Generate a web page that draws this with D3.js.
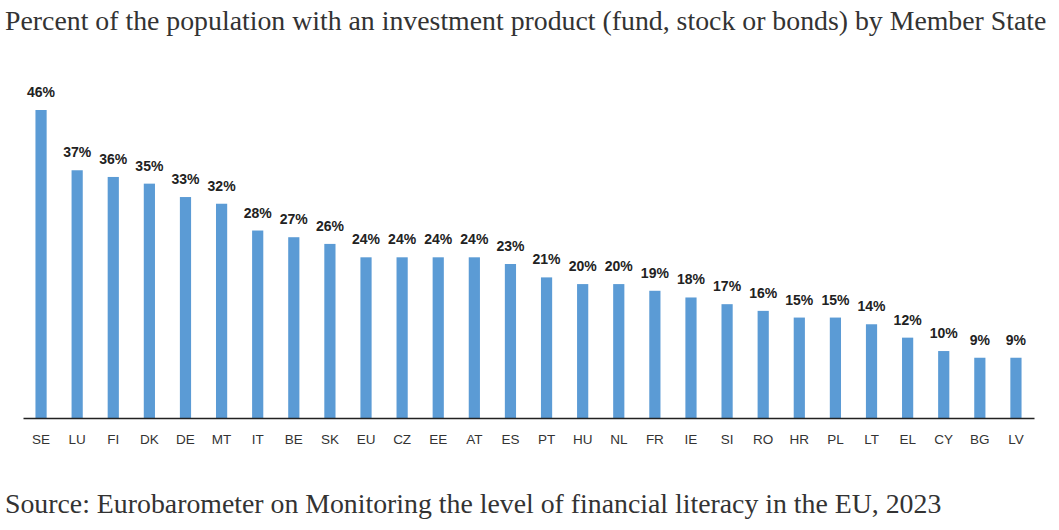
<!DOCTYPE html>
<html><head><meta charset="utf-8">
<script src="https://cdn.jsdelivr.net/npm/d3@7"></script>
<style>body{margin:0;background:#fff}</style>
</head><body>
<svg id="c" width="1059" height="530"></svg>
<script>
const categories = ["SE","LU","FI","DK","DE","MT","IT","BE","SK","EU","CZ","EE","AT","ES","PT","HU","NL","FR","IE","SI","RO","HR","PL","LT","EL","CY","BG","LV"];
const values = [46,37,36,35,33,32,28,27,26,24,24,24,24,23,21,20,20,19,18,17,16,15,15,14,12,10,9,9];
const titleText = "Percent of the population with an investment product (fund, stock or bonds) by Member State";
const sourceText = "Source: Eurobarometer on Monitoring the level of financial literacy in the EU, 2023";

const svg = d3.select("#c");
const x0 = 23, x1 = 1034, yBase = 418, yTop = 110;
const x = d3.scaleBand().domain(categories).range([x0, x1]).paddingInner(0.69).paddingOuter(0.345);
const y = d3.scaleLinear().domain([0, 46]).range([yBase, yTop]);

svg.append("text").attr("x", 5).attr("y", 30)
  .attr("font-family", "Liberation Serif, Times New Roman, serif").attr("font-size", 27.8)
  .attr("fill", "#333").text(titleText);

svg.selectAll("rect.bar").data(values).join("rect")
  .attr("x", (d,i) => x(categories[i])).attr("width", x.bandwidth())
  .attr("y", d => y(d)).attr("height", d => yBase - y(d))
  .attr("fill", "#5B9BD5");

svg.selectAll("text.lab").data(values).join("text")
  .attr("x", (d,i) => x(categories[i]) + x.bandwidth()/2).attr("y", d => y(d) - 13)
  .attr("text-anchor", "middle").attr("font-family", "Liberation Sans, Arial, sans-serif")
  .attr("font-weight", "bold").attr("font-size", 14).attr("fill", "#222")
  .text(d => d + "%");

const ax = svg.append("g").attr("transform", `translate(0,${yBase})`)
  .call(d3.axisBottom(x).tickSize(0).tickPadding(16));
ax.select(".domain").attr("stroke", "#222").attr("stroke-width", 1.5);
ax.selectAll("text").attr("font-family", "Liberation Sans, Arial, sans-serif").attr("font-size", 13.5).attr("fill", "#333");

svg.append("text").attr("x", 5).attr("y", 513)
  .attr("font-family", "Liberation Serif, Times New Roman, serif").attr("font-size", 27.8)
  .attr("fill", "#333").text(sourceText);
</script>
</body></html>
